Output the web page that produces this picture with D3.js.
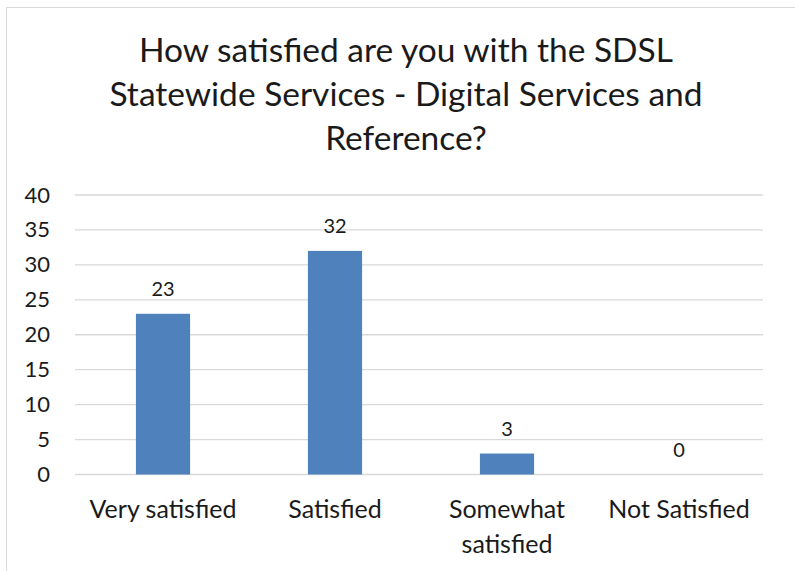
<!DOCTYPE html>
<html><head><meta charset="utf-8">
<script src="https://cdn.jsdelivr.net/npm/d3@7"></script>
<style>body{margin:0;background:#fff}svg{display:block}text{font-family:Lato,"Open Sans",sans-serif}</style>
</head><body>
<svg id="c" width="795" height="571"></svg>
<script>
const categories = ["Very satisfied", "Satisfied", "Somewhat satisfied", "Not Satisfied"];
const categoryLines = [["Very satisfied"], ["Satisfied"], ["Somewhat", "satisfied"], ["Not Satisfied"]];
const values = [23, 32, 3, 0];
const yTicks = [0, 5, 10, 15, 20, 25, 30, 35, 40];
const titleLines = ["How satisfied are you with the SDSL", "Statewide Services - Digital Services and", "Reference?"];

const svg = d3.select("#c");
svg.append("rect").attr("x", 6.5).attr("y", 7.5).attr("width", 820).attr("height", 600)
  .attr("fill", "#fff").attr("stroke", "#d9d9d9").attr("stroke-width", 1);

const m = {left: 75, right: 32, top: 195, bottom: 97};
const W = 795, H = 571;
const x = d3.scaleBand().domain(categories).range([m.left + 2, W - m.right + 2]).paddingInner(0.685).paddingOuter(0.3425);
const y = d3.scaleLinear().domain([0, 40]).range([474.5, 195]);

// title
const t = svg.append("text").attr("text-anchor", "middle").attr("fill", "#1a1a1a").style("font-size", "33.5px");
titleLines.forEach((l, i) => t.append("tspan").attr("x", 406).attr("y", 62 + i * 44).text(l));

// grid
const g = svg.append("g");
g.selectAll("line.grid").data(yTicks).join("line").attr("class", "grid")
  .attr("x1", m.left).attr("x2", W - m.right).attr("y1", d => y(d)).attr("y2", d => y(d))
  .attr("stroke", "#d9d9d9").attr("stroke-width", 1.3);

// y axis labels
const yAxis = d3.axisLeft(y).tickValues(yTicks).tickSize(0).tickPadding(0);
const ya = svg.append("g").attr("transform", "translate(50,0)").call(yAxis);
ya.select(".domain").remove();
ya.selectAll("text").attr("fill", "#1a1a1a").style("font-size", "22px").attr("font-family", "Lato,'Open Sans',sans-serif");

// bars
g.selectAll("rect.bar").data(values).join("rect").attr("class", "bar")
  .attr("x", (d, i) => x(categories[i])).attr("width", x.bandwidth())
  .attr("y", d => y(d)).attr("height", d => y(0) - y(d)).attr("fill", "#4f81bd");

// data labels
g.selectAll("text.lab").data(values).join("text").attr("class", "lab")
  .attr("x", (d, i) => x(categories[i]) + x.bandwidth() / 2).attr("y", d => y(d) - 18)
  .attr("text-anchor", "middle").attr("fill", "#1a1a1a").style("font-size", "20px").text(d => d);

// x labels
categories.forEach((c, i) => {
  const tx = svg.append("text").attr("text-anchor", "middle").attr("fill", "#1a1a1a").style("font-size", "25px");
  categoryLines[i].forEach((l, j) => tx.append("tspan").attr("x", x(c) + x.bandwidth() / 2).attr("y", 518 + j * 35).text(l));
});
</script>
</body></html>
